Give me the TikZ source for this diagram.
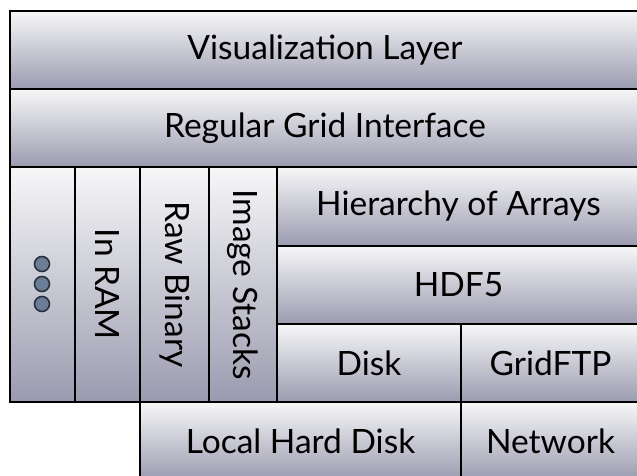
\documentclass[tikz,border=0pt]{standalone}
\usepackage{fontspec}
\setmainfont{Lato}
\definecolor{boxtop}{HTML}{F7F7F8}
\definecolor{boxbottom}{HTML}{9B9BB0}
\definecolor{dotfill}{HTML}{6A7E97}
\definecolor{dotline}{HTML}{2A323D}

\begin{document}
\begin{tikzpicture}[x=1pt,y=-1pt]
% Box style
\tikzset{
    layer/.style={draw=black, line width=2.6pt, top color=boxtop,
        bottom color=boxbottom, inner sep=0pt, rectangle},
    layertext/.style={font=\fontsize{33.5}{40}\selectfont, inner sep=0pt},
    dot/.style={circle, fill=dotfill, draw=dotline, line width=1.6pt,
        minimum size=15pt, inner sep=0pt}
}
\clip (0,0) rectangle (637,475);

% Layers
\node[layer, minimum width=630pt, minimum height=78pt] (Vis) at (325,50){};
\node[layer, minimum width=630pt, minimum height=78pt] (Grid) at (325,128){};

\node[layer, minimum width=65pt, minimum height=235pt] (More) at (42.5,284.5){};
\node[layer, minimum width=65pt, minimum height=235pt] (Ram) at (107.5,284.5){};
\node[layer, minimum width=69pt, minimum height=235pt] (Raw) at (174.5,284.5){};
\node[layer, minimum width=68pt, minimum height=235pt] (Stack) at (243,284.5){};

\node[layer, minimum width=363pt, minimum height=79pt] (Hier) at (458.5,206.5){};
\node[layer, minimum width=363pt, minimum height=78pt] (Hdf) at (458.5,285){};
\node[layer, minimum width=184pt, minimum height=78pt] (Disk) at (369,363){};
\node[layer, minimum width=179pt, minimum height=78pt] (Ftp) at (550.5,363){};
\node[layer, minimum width=321pt, minimum height=78pt] (Local) at (300.5,441){};
\node[layer, minimum width=179pt, minimum height=78pt] (Net) at (550.5,441){};

% Texts
\node[layertext] (VisText) at (Vis){Visualization Layer};
\node[layertext] (GridText) at (Grid){Regular Grid Interface};
\node[layertext, rotate=-90] (RamText) at (Ram){In RAM};
\node[layertext, rotate=-90] (RawText) at (Raw){Raw Binary};
\node[layertext, rotate=-90] (StackText) at (Stack){Image Stacks};
\node[layertext] (HierText) at (Hier){Hierarchy of Arrays};
\node[layertext] (HdfText) at (Hdf){HDF5};
\node[layertext] (DiskText) at (Disk){Disk};
\node[layertext] (FtpText) at (Ftp){GridFTP};
\node[layertext] (LocalText) at (Local){Local Hard Disk};
\node[layertext] (NetText) at (Net){Network};

% Dots
\node[dot] (Dota) at (42,264){};
\node[dot] (Dotb) at (42,284){};
\node[dot] (Dotc) at (42,304){};
\end{tikzpicture}
\end{document}
